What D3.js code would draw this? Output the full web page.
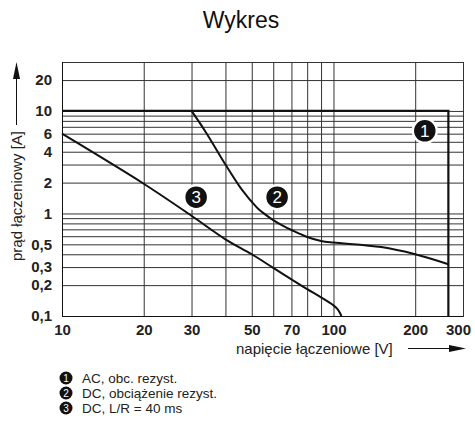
<!DOCTYPE html>
<html>
<head>
<meta charset="utf-8">
<script src="https://cdn.jsdelivr.net/npm/d3@7"></script>
<style>
	body { margin: 0; background: #fff; }
	svg { display: block; font-family: "Liberation Sans", Arial, sans-serif; }
</style>
</head>
<body>
<script>
// curve 1: AC, resistive load
const acV = [10, 265, 265];
const acI = [10, 10, 0.1];

// curve 2: DC, resistive load
const dcV = [30, 34, 40, 45, 48, 50, 53, 56, 60, 65, 70, 80, 90, 100, 150, 200, 265];
const dcI = [10, 6.1, 3.0, 1.85, 1.48, 1.3, 1.1, 0.98, 0.86, 0.76, 0.69, 0.59, 0.54, 0.52, 0.47, 0.4, 0.32];

// curve 3: DC, L/R = 40 ms
const lrV = [10, 20, 30, 40, 50, 60, 70, 80, 90, 100, 104, 107];
const lrI = [6, 1.95, 0.95, 0.56, 0.4, 0.295, 0.228, 0.183, 0.152, 0.127, 0.115, 0.1];

const xGrid = [20, 30, 40, 50, 60, 70, 80, 90, 100, 200];
const yGrid = [0.2, 0.3, 0.4, 0.5, 0.6, 0.7, 0.8, 0.9, 1, 2, 3, 4, 5, 6, 7, 8, 9, 10, 20];
const xTicks = [10, 20, 30, 50, 70, 100, 200, 300];
const yTicks = [0.1, 0.2, 0.3, 0.5, 1, 2, 4, 6, 10, 20];

// numbered markers on the curves (volts, amps)
const markerN = [1, 2, 3];
const markerV = [217, 62, 31.2];
const markerI = [6.4, 1.44, 1.44];

const legend = ["AC, obc. rezyst.", "DC, obciążenie rezyst.", "DC, L/R = 40 ms"];

const width = 475, height = 421;
const margin = ({ top: 62, right: 12, bottom: 105, left: 62 });

const x = d3.scaleLog()
	.domain([10, 300])
	.range([margin.left, width - margin.right]);

const y = d3.scaleLog()
	.domain([0.1, 30])
	.range([height - margin.bottom, margin.top]);

const fmt = d3.formatLocale({ decimal: ",", thousands: " ", grouping: [3], currency: ["", ""] }).format("~g");

const svg = d3.select("body").append("svg")
	.attr("width", width)
	.attr("height", height);

svg.append("text")
	.attr("x", 241)
	.attr("y", 28)
	.attr("text-anchor", "middle")
	.attr("font-size", 23)
	.attr("fill", "#111")
	.text("Wykres");

// grid
svg.append("g")
	.attr("transform", `translate(0,${y.range()[0]})`)
	.call(d3.axisBottom(x).tickValues(xGrid).tickSize(-(y.range()[0] - y.range()[1])).tickFormat(""))
	.call(g => g.select(".domain").remove())
	.call(g => g.selectAll("line").attr("stroke", "#333"));

svg.append("g")
	.attr("transform", `translate(${x.range()[0]},0)`)
	.call(d3.axisLeft(y).tickValues(yGrid).tickSize(-(x.range()[1] - x.range()[0])).tickFormat(""))
	.call(g => g.select(".domain").remove())
	.call(g => g.selectAll("line").attr("stroke", "#333"));

svg.append("rect")
	.attr("x", x.range()[0] + 0.5)
	.attr("y", y.range()[1] + 0.5)
	.attr("width", x.range()[1] - x.range()[0])
	.attr("height", y.range()[0] - y.range()[1])
	.attr("fill", "none")
	.attr("stroke", "#333");

svg.append("line")
	.attr("stroke", "#111")
	.attr("x1", x.range()[0] + 0.5).attr("x2", x.range()[0] + 0.5)
	.attr("y1", y.range()[1]).attr("y2", y.range()[0]);
svg.append("line")
	.attr("stroke", "#111")
	.attr("x1", x.range()[0]).attr("x2", x.range()[1])
	.attr("y1", y.range()[0] + 0.5).attr("y2", y.range()[0] + 0.5);

// tick labels
svg.append("g")
	.attr("transform", `translate(0,${y.range()[0]})`)
	.call(d3.axisBottom(x).tickValues(xTicks).tickSize(0).tickPadding(8).tickFormat(fmt))
	.call(g => g.select(".domain").remove())
	.call(g => g.selectAll("text")
		.attr("font-family", "Liberation Sans, Arial, sans-serif")
		.attr("font-size", 15)
		.attr("font-weight", "bold")
		.attr("fill", "#222")
		.attr("dx", d => d === 300 ? -5 : 0));

svg.append("g")
	.attr("transform", `translate(${x.range()[0]},0)`)
	.call(d3.axisLeft(y).tickValues(yTicks).tickSize(0).tickPadding(10).tickFormat(fmt))
	.call(g => g.select(".domain").remove())
	.call(g => g.selectAll("text")
		.attr("font-family", "Liberation Sans, Arial, sans-serif")
		.attr("font-size", 15)
		.attr("font-weight", "bold")
		.attr("fill", "#222"));

// curves
const line = d3.line()
	.x(d => x(d[0]))
	.y(d => y(d[1]));

svg.append("path")
	.attr("fill", "none")
	.attr("stroke", "#111")
	.attr("stroke-width", 2.2)
	.attr("d", line(d3.zip(acV, acI)));

const smooth = d3.line()
	.x(d => x(d[0]))
	.y(d => y(d[1]))
	.curve(d3.curveCatmullRom.alpha(0.5));

svg.selectAll("path.curve")
	.data([d3.zip(dcV, dcI), d3.zip(lrV, lrI)])
	.enter()
	.append("path")
	.attr("class", "curve")
	.attr("fill", "none")
	.attr("stroke", "#111")
	.attr("stroke-width", 2)
	.attr("d", d => smooth(d));

// numbered markers
const mk = svg.selectAll("g.marker")
	.data(markerN)
	.enter()
	.append("g")
	.attr("class", "marker")
	.attr("transform", (d, i) => `translate(${x(markerV[i])},${y(markerI[i])})`);

mk.append("circle")
	.attr("r", 12)
	.attr("fill", "#111")
	.attr("stroke", "#fff")
	.attr("stroke-width", 2.5);

mk.append("text")
	.attr("text-anchor", "middle")
	.attr("dy", "0.36em")
	.attr("font-size", 17)
	.attr("fill", "#fff")
	.text(d => d);

// axis titles with arrows
svg.append("text")
	.attr("transform", "rotate(-90)")
	.attr("x", -196)
	.attr("y", 22)
	.attr("text-anchor", "middle")
	.attr("font-size", 15)
	.attr("fill", "#222")
	.text("prąd łączeniowy [A]");

svg.append("line")
	.attr("stroke", "#111")
	.attr("x1", 16.5).attr("x2", 16.5)
	.attr("y1", 125).attr("y2", 72);
svg.append("path")
	.attr("fill", "#111")
	.attr("d", "M16.5,62L20,79L13,79Z");

svg.append("text")
	.attr("x", 236)
	.attr("y", 354)
	.attr("font-size", 15)
	.attr("fill", "#222")
	.text("napięcie łączeniowe [V]");

svg.append("line")
	.attr("stroke", "#111")
	.attr("x1", 408).attr("x2", 455)
	.attr("y1", 348.5).attr("y2", 348.5);
svg.append("path")
	.attr("fill", "#111")
	.attr("d", "M466,348.5L449,345L449,352Z");

// legend
const lg = svg.selectAll("g.legend")
	.data(legend)
	.enter()
	.append("g")
	.attr("class", "legend")
	.attr("transform", (d, i) => `translate(66,${378 + i * 15})`);

lg.append("circle")
	.attr("r", 6.5)
	.attr("fill", "#111");

lg.append("text")
	.attr("text-anchor", "middle")
	.attr("dy", "0.36em")
	.attr("font-size", 10)
	.attr("fill", "#fff")
	.text((d, i) => markerN[i]);

lg.append("text")
	.attr("x", 16)
	.attr("dy", "0.36em")
	.attr("font-size", 13.5)
	.attr("fill", "#222")
	.text(d => d);
</script>
</body>
</html>
